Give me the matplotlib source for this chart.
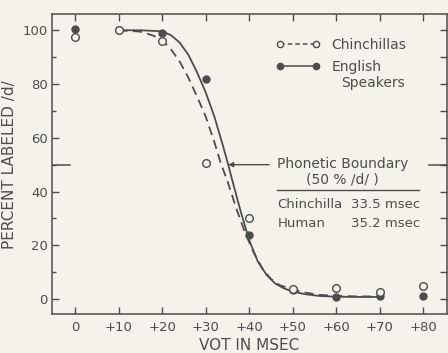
"""Identification functions for /d/-/t/ VOT continuum: chinchillas vs English speakers."""

import matplotlib

matplotlib.use("Agg")
import matplotlib.pyplot as plt
from matplotlib.lines import Line2D

# measured points (percent labeled /d/)
vot = [0, 10, 20, 30, 40, 50, 60, 70, 80]
chinchilla_pts = [97.5, 100, 96, 50.5, 30, 3.8, 4, 2.5, 4.8]
human_pts = [100.3, 100, 99, 82, 24, 3.5, 0.8, 1, 1]

# fitted curves
human_curve_x = [10, 15, 20, 22, 24, 26, 28, 30, 32, 34, 35.2, 36, 38, 40,
                 42, 44, 46, 48, 50, 53, 56, 60, 65, 70]
human_curve_y = [100, 100, 99.6, 98.2, 95.5, 91, 84.5, 77, 68, 57, 50, 45,
                 33, 22, 14, 9, 5.8, 4, 2.8, 1.8, 1.2, 0.9, 0.8, 0.8]
chin_curve_x = [10, 15, 18, 20, 22, 24, 26, 28, 30, 32, 33.5, 35, 37, 39,
                41, 43, 45, 47, 50, 53, 56, 60, 65, 70]
chin_curve_y = [100, 99.5, 98, 96.3, 93, 88.5, 82.5, 75.5, 68, 58.5, 50.5,
                44, 34, 25, 17.5, 11.5, 7.5, 5.2, 3.6, 2.4, 1.6, 1.2, 1.0, 1.0]

xticks = [0, 10, 20, 30, 40, 50, 60, 70, 80]
xtick_labels = ["0", "+10", "+20", "+30", "+40", "+50", "+60", "+70", "+80"]
yticks = [0, 20, 40, 60, 80, 100]
boundary_chin = 33.5
boundary_human = 35.2

INK = "#4d4d4d"
PAPER = "#f4f2ea"

plt.rcParams["font.family"] = ["DejaVu Sans"]

fig = plt.figure(figsize=(4.48, 3.53), dpi=100, facecolor=PAPER)
ax = fig.add_axes([0.116, 0.110, 0.882, 0.850], facecolor=PAPER)
ax.set_xlim(-5.3, 85.5)
ax.set_ylim(-5.6, 106)

ax.plot(human_curve_x, human_curve_y, color=INK, lw=1.3)
ax.plot(chin_curve_x, chin_curve_y, color=INK, lw=1.3, ls=(0, (5, 3)))
ax.plot(vot, human_pts, "o", color=INK, ms=5, ls="none")
ax.plot(vot, chinchilla_pts, "o", mfc=PAPER, mec=INK, mew=1.0, ms=5.5, ls="none")

for side in ax.spines.values():
    side.set_color(INK)
    side.set_linewidth(1.1)

ax.set_xticks(xticks)
ax.set_xticklabels(xtick_labels)
ax.set_yticks(yticks)
ax.set_yticks(range(10, 100, 20), minor=True)
ax.tick_params(axis="both", which="major", direction="in", length=5, width=1,
               color=INK, labelcolor=INK, labelsize=9.5, top=True)
ax.tick_params(axis="x", pad=5)
ax.tick_params(axis="y", pad=3)
ax.tick_params(axis="y", which="minor", direction="in", length=3, width=1, color=INK)

ax2 = ax.twinx()
ax2.set_ylim(ax.get_ylim())
ax2.set_yticks(range(0, 101, 10))
ax2.set_yticklabels([])
ax2.tick_params(direction="in", length=5, width=1, color=INK)
for name in ("left", "right", "top", "bottom"):
    ax2.spines[name].set_visible(False)

# 50% markers on both sides
ax.axhline(50, xmin=0, xmax=0.045, color=INK, lw=1.1)
ax.axhline(50, xmin=0.955, xmax=1, color=INK, lw=1.1)

ax.set_xlabel("VOT IN MSEC", fontsize=11, color=INK, labelpad=3)
ax.set_ylabel("PERCENT LABELED /d/", fontsize=11, color=INK, labelpad=4)

handles = [
    Line2D([], [], color=INK, lw=1.1, ls=(0, (3, 2)), marker="o", mfc=PAPER,
           mec=INK, ms=4.5),
    Line2D([], [], color=INK, lw=1.1, marker="o", ms=4.5),
]
leg = ax.legend(handles, ["Chinchillas", "English"], loc="upper left",
                bbox_to_anchor=(0.535, 0.962), frameon=False, numpoints=2,
                handlelength=3.2, handletextpad=0.8, labelspacing=0.55,
                fontsize=10, labelcolor=INK)
ax.text(0.733, 0.772, "Speakers", transform=ax.transAxes, fontsize=10,
        color=INK, va="center")

# phonetic boundary annotation
ax.annotate("", xy=(boundary_human, 50), xytext=(44.6, 50),
            arrowprops=dict(arrowstyle="-|>", color=INK, lw=1.0,
                            mutation_scale=7, shrinkA=0, shrinkB=0))
ax.text(46.5, 50.4, "Phonetic Boundary", fontsize=10, color=INK, va="center")
ax.text(61.5, 44.5, "(50 % /d/ )", fontsize=10, color=INK, va="center",
        ha="center")
ax.plot([46.5, 79], [40.5, 40.5], color=INK, lw=1.0)
ax.text(46.5, 35.3, "Chinchilla", fontsize=9.5, color=INK, va="center")
ax.text(63.5, 35.3, f"{boundary_chin} msec", fontsize=9.5, color=INK, va="center")
ax.text(46.5, 28.3, "Human", fontsize=9.5, color=INK, va="center")
ax.text(63.5, 28.3, f"{boundary_human} msec", fontsize=9.5, color=INK, va="center")

fig.savefig("out.png", dpi=100, facecolor=PAPER)
